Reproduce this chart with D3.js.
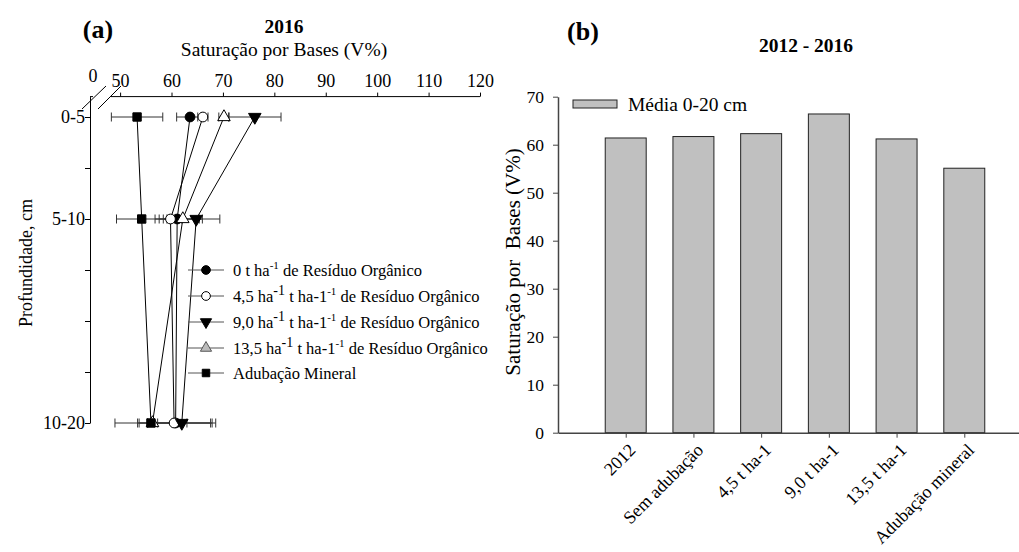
<!DOCTYPE html>
<html>
<head>
<meta charset="utf-8">
<script src="https://cdn.jsdelivr.net/npm/d3@7"></script>
<style>
  body { margin: 0; background: #fff; }
  svg, svg text { font-family: "Liberation Serif", Tinos, "Times New Roman", Times, "DejaVu Serif", serif; }
</style>
</head>
<body>
<svg id="chart" width="1019" height="552"></svg>
<script>
// ---- data, panel (a): V% by depth, 2016
var depths = [5, 10, 20];
var depthLabels = ["0-5", "5-10", "10-20"];
var xTicksA = [50, 60, 70, 80, 90, 100, 110, 120];

var zeroT = [63.6, 61.1, 60.8];
var zeroTErr = [2.6, 4.3, 7.1];
var t45 = [66.1, 59.8, 60.5];
var t45Err = [1.0, 2.2, 7.1];
var t90 = [76.2, 64.8, 62.0];
var t90Err = [5.1, 4.6, 6.6];
var t135 = [70.2, 62.2, 56.3];
var t135Err = [1.0, 3.8, 1.0];
var mineral = [53.3, 54.2, 56.0];
var mineralErr = [5.0, 4.9, 7.0];

// ---- data, panel (b): mean 0-20 cm, 2012 - 2016
var categories = ["2012", "Sem adubação", "4,5 t ha-1", "9,0 t ha-1", "13,5 t ha-1", "Adubação mineral"];
var media = [61.4, 61.7, 62.3, 66.4, 61.2, 55.1];

var svg = d3.select("#chart");
svg.append("rect").attr("width", 1019).attr("height", 552).attr("fill", "#fff");

var axisCol = "#444";

// ================= panel (a) =================
var xA = d3.scaleLinear().domain([50, 120]).range([120.1, 480]);
var yA = d3.scaleLinear().domain([4, 20]).range([96.6, 423]);
var y0A = yA(4);
var xLeft = 90;

var gA = svg.append("g");

// top axis
var topAxis = gA.append("g")
    .attr("transform", "translate(0," + y0A + ")")
    .call(d3.axisTop(xA).tickValues(xTicksA).tickSize(4).tickSizeOuter(0));
topAxis.attr("font-family", null);
topAxis.select(".domain").remove();
topAxis.selectAll("line").attr("stroke", "#000");
topAxis.selectAll("text").attr("font-size", 18).attr("fill", "#000").attr("dy", "-0.15em");
gA.append("line").attr("x1", xA(48.2)).attr("x2", xA(120)).attr("y1", y0A).attr("y2", y0A).attr("stroke", "#000");
gA.append("line").attr("x1", xLeft).attr("x2", xLeft + 3).attr("y1", y0A).attr("y2", y0A).attr("stroke", "#000");
gA.append("text").attr("x", 93).attr("y", 82).attr("text-anchor", "middle").attr("font-size", 18).text("0");
// axis break marks
gA.append("line").attr("x1", 82).attr("y1", 109).attr("x2", 106).attr("y2", 86).attr("stroke", "#000");
gA.append("line").attr("x1", 98).attr("y1", 109).attr("x2", 121).attr("y2", 86).attr("stroke", "#000");

// left axis
var leftAxis = gA.append("g")
    .attr("transform", "translate(" + xLeft + ",0)")
    .call(d3.axisLeft(yA).tickValues([5, 7.5, 10, 12.5, 15, 17.5, 20]).tickSize(5).tickSizeOuter(0)
      .tickFormat(function (d) { var i = depths.indexOf(d); return i >= 0 ? depthLabels[i] : ""; }));
leftAxis.attr("font-family", null);
leftAxis.select(".domain").attr("stroke", "#000");
leftAxis.selectAll("line").attr("stroke", "#000");
leftAxis.selectAll("text").attr("font-size", 18).attr("fill", "#000").attr("x", -5);

gA.append("text").attr("transform", "translate(32,263) rotate(-90)").attr("text-anchor", "middle")
  .attr("font-size", 18).text("Profundidade, cm");

gA.append("text").attr("x", 98).attr("y", 38).attr("text-anchor", "middle").attr("font-size", 26)
  .attr("font-weight", "bold").text("(a)");
gA.append("text").attr("x", 284).attr("y", 33).attr("text-anchor", "middle").attr("font-size", 19.5)
  .attr("font-weight", "bold").text("2016");
gA.append("text").attr("x", 284).attr("y", 56).attr("text-anchor", "middle").attr("font-size", 19.5)
  .text("Saturação por Bases (V%)");

var series = [
  { vals: zeroT, err: zeroTErr, shape: d3.symbolCircle, size: 75, rot: 0, fill: "#000" },
  { vals: t45, err: t45Err, shape: d3.symbolCircle, size: 75, rot: 0, fill: "#fff" },
  { vals: t90, err: t90Err, shape: d3.symbolTriangle, size: 68, rot: 180, fill: "#000" },
  { vals: t135, err: t135Err, shape: d3.symbolTriangle, size: 68, rot: 0, fill: "#fff" },
  { vals: mineral, err: mineralErr, shape: d3.symbolSquare, size: 70, rot: 0, fill: "#000" }
];

// error bars
series.forEach(function (s) {
  s.vals.forEach(function (v, i) {
    var y = yA(depths[i]);
    var x1 = xA(v - s.err[i]), x2 = xA(v + s.err[i]);
    gA.append("line").attr("x1", x1).attr("x2", x2).attr("y1", y).attr("y2", y).attr("stroke", "#333");
    [x1, x2].forEach(function (x) {
      gA.append("line").attr("x1", x).attr("x2", x).attr("y1", y - 4.5).attr("y2", y + 4.5).attr("stroke", "#333");
    });
  });
});

// lines
var lineA = d3.line().x(function (d) { return xA(d[0]); }).y(function (d) { return yA(d[1]); });
series.forEach(function (s) {
  gA.append("path").datum(s.vals.map(function (v, i) { return [v, depths[i]]; }))
    .attr("d", lineA).attr("fill", "none").attr("stroke", "#000").attr("stroke-width", 1);
});

// markers
series.forEach(function (s) {
  s.vals.forEach(function (v, i) {
    gA.append("path").attr("d", d3.symbol().type(s.shape).size(s.size)())
      .attr("transform", "translate(" + xA(v) + "," + yA(depths[i]) + ") rotate(" + s.rot + ")")
      .attr("fill", s.fill).attr("stroke", "#000").attr("stroke-width", 1);
  });
});

// legend (a)
var legY = [270, 296, 322, 348, 373];
var legA = gA.append("g");
series.forEach(function (s, k) {
  var y = legY[k];
  legA.append("line").attr("x1", 188).attr("x2", 224).attr("y1", y).attr("y2", y).attr("stroke", "#555");
  legA.append("path").attr("d", d3.symbol().type(s.shape).size(s.size * 0.8)())
    .attr("transform", "translate(206," + y + ") rotate(" + s.rot + ")")
    .attr("fill", k === 3 ? "#bbb" : s.fill).attr("stroke", k === 3 ? "#555" : "#000");
  var t = legA.append("text").attr("x", 233).attr("y", y + 5.5).attr("font-size", 16.5);
  if (k === 0) {
    t.append("tspan").text("0 t ha");
    t.append("tspan").attr("dy", -7).attr("font-size", 11).text("-1");
    t.append("tspan").attr("dy", 7).text(" de Resíduo Orgânico");
  } else if (k < 4) {
    var lab = ["", "4,5", "9,0", "13,5"][k];
    t.append("tspan").text(lab + " ha");
    t.append("tspan").attr("dy", -7).attr("font-size", 14).text("-1");
    t.append("tspan").attr("dy", 7).text(" t ha-1");
    t.append("tspan").attr("dy", -7).attr("font-size", 11).text("-1");
    t.append("tspan").attr("dy", 7).text(" de Resíduo Orgânico");
  } else {
    t.text("Adubação Mineral");
  }
});

// ================= panel (b) =================
var xB = d3.scaleLinear().domain([0, 7]).range([558, 1032]);
var yB = d3.scaleLinear().domain([0, 70]).range([432.7, 96.7]);
var barW = xB(0.605) - xB(0);

var gB = svg.append("g");

gB.selectAll("rect.bar").data(media).enter().append("rect")
  .attr("class", "bar")
  .attr("x", function (d, i) { return xB(i + 1) - barW / 2; })
  .attr("y", function (d) { return yB(d); })
  .attr("width", barW)
  .attr("height", function (d) { return yB(0) - yB(d); })
  .attr("fill", "#c0c0c0").attr("stroke", "#222").attr("stroke-width", 1);

var yAxisB = gB.append("g").attr("transform", "translate(558,0)")
  .call(d3.axisLeft(yB).tickValues(d3.range(0, 71, 10)).tickSize(5).tickSizeOuter(0));
yAxisB.attr("font-family", null);
yAxisB.select(".domain").attr("stroke", axisCol).attr("stroke-width", 1.5);
yAxisB.selectAll("line").attr("stroke", axisCol);
yAxisB.selectAll("text").attr("font-size", 17.5).attr("fill", "#000").attr("x", -14);

var xAxisB = gB.append("g").attr("transform", "translate(0,432.7)")
  .call(d3.axisBottom(xB).tickValues([1, 2, 3, 4, 5, 6]).tickSize(5).tickSizeOuter(0)
    .tickFormat(function (d) { return categories[d - 1]; }));
xAxisB.attr("font-family", null);
xAxisB.select(".domain").attr("stroke", axisCol).attr("stroke-width", 1.5);
xAxisB.selectAll("line").attr("stroke", axisCol);
xAxisB.selectAll("text").attr("font-size", 18).attr("fill", "#000")
  .attr("x", 0).attr("y", 0).attr("dy", "0.35em")
  .attr("transform", "translate(6,14) rotate(-45)").style("text-anchor", "end");

gB.append("text").attr("transform", "translate(520,262) rotate(-90)").attr("text-anchor", "middle")
  .attr("font-size", 21).style("white-space", "pre").text("Saturação por  Bases (V%)");

gB.append("text").attr("x", 583).attr("y", 40).attr("text-anchor", "middle").attr("font-size", 26)
  .attr("font-weight", "bold").text("(b)");
gB.append("text").attr("x", 806).attr("y", 52).attr("text-anchor", "middle").attr("font-size", 19.5)
  .attr("font-weight", "bold").text("2012 - 2016");

// legend (b)
gB.append("rect").attr("x", 573).attr("y", 100).attr("width", 44).attr("height", 8)
  .attr("fill", "#c0c0c0").attr("stroke", "#222");
gB.append("text").attr("x", 628).attr("y", 111).attr("font-size", 19.5).text("Média 0-20 cm");
</script>
</body>
</html>
